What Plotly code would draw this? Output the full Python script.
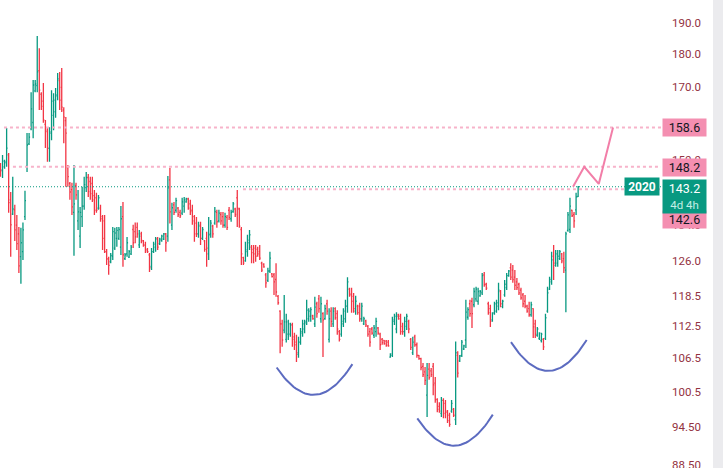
import math
import plotly.graph_objects as go

# ---------------- data ----------------
opens = [148.4,147.4,148.2,149.2,151.3,140.0,136.6,137.6,134.0,132.0,126.9,128.0,136.0,148.4,154.2,158.3,160.0,169.0,170.5,175.0,
         168.0,166.0,159.5,157.5,153.0,157.0,162.0,163.0,167.5,172.0,170.0,163.5,160.5,148.0,144.0,142.5,137.0,143.5,135.0,131.5,
         136.0,138.5,143.0,145.5,144.5,144.0,141.0,140.5,138.0,138.0,136.0,135.0,128.0,126.5,125.8,127.0,128.8,131.0,131.0,129.0,
         136.0,126.5,127.5,126.8,127.5,133.0,132.5,133.5,129.5,132.0,130.4,129.5,128.5,127.3,124.8,128.0,129.0,131.0,129.8,130.5,
         130.8,132.0,131.5,144.9,134.0,138.8,137.5,138.0,137.0,136.8,138.5,139.5,140.2,139.0,137.5,136.0,134.5,132.0,134.0,131.0,
         130.4,131.0,127.5,132.0,133.8,134.5,137.0,135.0,136.5,136.0,134.0,135.8,137.5,135.5,137.2,137.8,140.5,137.8,133.0,126.7,
         126.0,128.0,130.0,129.0,128.5,128.8,128.5,128.0,125.5,125.3,123.0,121.8,123.8,123.2,123.0,122.0,118.5,115.5,113.0,111.8,
         110.0,111.0,111.0,112.8,110.5,109.5,107.2,109.5,111.2,112.0,113.5,114.0,114.5,114.6,113.0,117.0,118.0,114.0,115.0,114.0,
         117.0,110.0,115.5,113.0,116.0,115.0,111.5,111.0,113.0,114.0,116.5,120.0,119.0,118.5,115.5,116.5,116.5,114.0,113.0,113.6,
         112.5,111.5,112.0,110.8,111.5,112.2,111.0,110.0,109.8,109.7,109.5,106.7,107.0,113.5,112.0,114.8,114.5,112.5,111.5,112.5,
         113.5,110.0,107.5,110.5,109.0,107.0,106.4,105.0,104.0,99.9,104.5,104.2,105.0,102.0,99.2,98.0,96.8,99.0,98.5,97.2,
         96.5,97.2,97.5,95.8,107.0,106.0,107.0,108.2,109.9,114.3,117.0,117.5,116.8,118.0,117.5,118.6,119.2,123.0,121.0,117.0,
         116.0,113.8,115.2,115.5,116.5,119.5,116.4,118.8,120.3,122.8,124.5,124.0,122.5,121.5,121.0,119.8,118.8,117.5,116.5,116.0,
         114.8,116.0,113.0,110.8,110.2,109.8,110.0,110.2,115.5,120.0,121.5,127.0,125.0,125.5,126.5,127.5,126.5,124.0,132.8,133.0,
         137.5,136.5,137.6,140.8]
highs = [149.2,151.3,150.0,158.5,151.8,141.9,145.7,138.8,136.4,133.6,133.4,134.6,142.2,157.1,157.1,168.6,172.2,172.2,185.8,181.9,
         168.6,171.3,160.7,158.7,158.7,169.2,168.3,169.8,174.3,174.6,175.8,164.3,161.5,148.7,144.4,144.2,148.7,144.2,142.4,138.3,
         143.2,145.7,146.9,146.4,145.7,145.7,142.4,141.7,141.2,138.8,136.4,136.4,128.6,126.9,127.7,133.6,133.4,133.6,133.6,138.5,
         139.5,127.7,131.3,128.4,129.5,134.1,134.6,134.6,132.9,132.5,130.6,130.2,128.8,127.7,128.8,130.2,131.3,131.3,131.1,131.8,
         132.2,132.2,145.9,147.9,139.3,139.5,140.5,138.3,137.6,140.5,140.7,140.5,140.5,140.0,138.8,136.4,135.9,134.8,134.8,133.6,
         130.6,132.5,135.9,135.2,134.1,138.3,137.6,137.6,137.1,137.1,136.9,136.4,138.3,137.6,139.5,138.1,142.4,138.1,133.6,126.9,
         130.2,131.8,132.9,129.5,129.5,129.5,129.1,129.5,125.8,125.5,123.4,124.5,128.0,123.4,123.4,125.5,118.8,115.7,113.8,118.8,
         115.0,113.8,113.2,113.2,111.3,110.9,110.5,112.2,113.8,113.8,117.8,116.1,116.3,114.8,118.4,117.4,118.8,118.4,115.3,116.8,
         117.8,116.1,116.3,116.3,116.3,115.7,111.8,114.8,116.1,117.8,122.5,120.3,120.3,119.2,118.6,116.8,117.2,117.2,114.4,113.8,
         112.8,112.2,112.4,112.8,114.2,112.4,111.3,110.3,109.9,109.9,109.9,107.4,114.4,115.0,115.3,115.0,115.0,113.2,114.4,115.0,
         113.8,110.3,110.5,110.9,109.4,107.1,106.6,105.6,104.9,105.6,105.6,104.7,105.6,103.1,99.4,98.7,99.6,99.4,99.1,97.4,
         96.9,99.1,97.7,109.6,107.8,107.1,109.9,109.0,117.8,116.3,117.8,118.2,120.3,120.5,120.3,119.8,123.4,123.6,121.3,117.4,
         116.8,115.3,117.4,117.8,121.3,119.8,117.8,121.9,123.4,124.0,125.5,125.1,124.0,122.3,121.3,120.3,119.2,118.8,116.8,117.4,
         117.4,116.1,113.8,112.4,111.4,111.3,110.3,115.0,120.5,122.6,128.0,129.5,128.4,128.4,128.4,127.7,128.0,132.5,137.1,140.5,
         137.6,137.1,141.7,143.4]
lows = [145.7,145.4,147.7,148.2,136.9,126.9,136.4,130.4,128.4,123.4,121.1,126.2,135.2,146.9,153.9,157.9,155.7,168.6,168.6,163.5,
        163.5,159.9,153.1,149.5,149.5,155.2,157.9,161.3,166.3,163.5,162.9,154.4,143.2,143.2,140.0,136.4,127.1,140.0,132.9,128.8,
        133.6,137.6,141.9,140.7,140.0,139.5,136.4,136.9,137.6,134.8,128.4,127.7,125.1,123.0,125.5,126.2,128.4,129.1,130.6,127.3,
        124.7,126.2,126.9,126.6,127.3,128.8,129.9,131.1,128.8,129.9,129.1,127.7,127.7,123.6,124.0,127.7,128.0,128.4,129.5,130.2,
        130.6,128.0,130.2,134.4,132.9,136.4,136.9,135.9,135.7,136.4,136.9,139.3,137.6,136.4,134.1,130.2,131.3,131.1,129.5,130.6,
        128.0,124.7,126.2,131.1,131.1,134.1,133.4,134.6,134.1,133.4,133.4,132.9,135.2,134.8,136.9,135.9,133.6,133.4,125.1,125.1,
        125.8,126.9,128.4,125.5,125.5,125.8,126.9,126.2,123.6,124.5,120.3,121.5,123.4,122.4,118.8,118.4,116.8,107.4,108.6,111.2,
        109.4,109.9,110.5,108.6,108.0,105.8,106.6,109.0,110.5,111.2,112.8,113.4,113.4,113.8,112.4,114.2,115.2,113.2,106.7,113.8,
        114.8,109.4,112.4,112.4,113.8,110.9,109.6,110.5,112.4,113.2,115.2,118.4,115.2,115.2,114.8,114.8,113.4,113.4,112.8,112.4,
        110.5,108.6,110.9,110.3,110.5,110.9,108.0,109.0,109.0,108.6,108.6,106.6,106.7,112.8,111.2,113.8,110.9,110.9,110.5,111.8,
        111.2,108.0,107.1,108.6,106.6,106.2,104.3,103.1,101.7,96.2,102.6,103.1,99.9,98.6,97.0,96.9,96.2,96.0,96.0,95.2,
        94.6,96.9,96.2,94.9,103.0,105.8,106.7,108.0,108.4,113.8,114.4,112.2,116.3,117.4,116.8,118.4,118.8,120.5,119.8,114.8,
        112.4,113.4,114.8,115.2,115.7,116.3,116.1,118.4,119.8,122.6,121.9,121.3,119.8,119.8,118.8,117.8,116.3,116.1,115.2,114.4,
        114.4,110.3,110.3,110.5,109.9,109.4,108.0,109.9,115.2,119.8,120.9,121.9,124.7,124.7,126.2,125.5,123.4,115.3,132.5,132.2,
        135.9,133.4,136.4,140.7]
closes = [147.2,149.7,149.5,153.1,139.3,134.1,137.8,132.9,129.8,124.9,130.0,132.9,139.8,153.9,156.0,163.8,170.7,171.0,174.6,169.2,
          164.5,160.7,157.9,153.1,157.4,166.0,166.3,167.8,172.5,166.3,164.3,161.5,157.1,145.7,141.9,138.3,139.0,141.2,137.1,137.0,
          138.5,143.7,145.5,142.0,141.5,140.0,137.5,137.5,140.5,135.5,131.0,128.0,126.4,125.0,127.2,132.5,132.2,132.8,133.0,135.5,
          127.3,127.3,130.0,128.0,129.0,130.0,131.3,132.0,131.5,130.5,129.4,128.2,128.0,124.5,128.0,129.7,130.8,129.0,130.8,131.5,
          132.0,130.0,142.9,137.1,138.1,137.0,139.8,136.5,136.2,139.5,140.0,140.3,138.0,137.2,135.0,132.0,132.0,133.8,131.0,133.0,
          128.5,128.8,131.8,134.5,132.0,137.2,134.8,136.8,135.0,134.0,136.0,133.5,135.8,137.0,139.0,136.5,138.0,133.8,127.5,125.5,
          128.4,130.6,131.8,127.8,127.5,127.0,127.5,126.6,124.0,124.7,121.3,123.8,126.6,122.6,121.5,119.4,117.2,113.0,109.9,113.4,
          113.4,113.0,112.8,110.0,109.0,107.5,109.5,111.5,113.0,113.2,115.7,115.5,115.8,114.0,116.3,115.0,116.0,117.0,113.8,116.0,
          115.5,114.0,113.5,115.5,114.2,112.0,110.0,113.5,115.5,116.5,121.5,118.8,117.5,116.0,117.5,115.2,114.0,116.5,114.0,112.8,
          111.0,109.5,111.2,112.2,113.5,111.2,109.0,109.4,109.2,108.9,108.8,107.3,113.8,114.5,114.5,114.0,111.5,111.5,113.5,114.5,
          112.0,108.5,109.5,109.0,107.0,106.4,104.8,103.5,102.5,103.4,103.0,103.5,101.7,99.1,97.5,97.2,99.0,96.8,97.0,95.6,
          95.0,98.5,96.5,107.5,103.8,106.9,109.5,108.8,115.3,115.8,115.0,115.0,119.5,120.0,119.5,119.5,122.8,120.9,120.2,115.2,
          113.5,115.0,117.0,117.2,119.8,117.0,117.5,121.0,122.8,123.8,122.5,122.0,120.8,120.3,119.2,118.2,117.0,116.5,115.5,114.8,
          116.8,112.4,111.0,112.0,111.2,111.0,108.6,114.2,119.2,122.0,126.2,125.5,127.5,127.0,128.0,126.0,124.5,132.0,136.4,138.5,
          136.2,135.0,140.7,143.2]

bar_index = list(range(len(opens)))

level_prices = [158.6, 148.2, 142.6]
level_start = [1.7, 6.1, 118.8]
last_price = 143.2
countdown = "4d 4h"
year_label = "2020"

proj_x = [280.5, 286.0, 293.1, 300.1]
proj_y = [143.2, 148.2, 143.9, 158.6]

arc_x = [[135.3, 154.9, 172.4], [204.2, 223.8, 241.2], [250.1, 269.2, 287.2]]
arc_y = [[104.8, 100.0, 105.4], [96.0, 91.6, 96.6], [109.5, 104.2, 109.9]]

tick_vals = [88.5, 94.5, 100.5, 106.5, 112.5, 118.5, 126.0, 134.0, 150.0, 170.0, 180.0, 190.0]
tick_text = ["88.50", "94.50", "100.5", "106.5", "112.5", "118.5", "126.0", "134.0",
             "150.0", "170.0", "180.0", "190.0"]

# ---------------- figure ----------------
GREEN = "#089981"
RED = "#f23645"
PINK = "#f48fb1"
X_RANGE = [-0.245, 323.6]
X_END = 330

fig = go.Figure()

# horizontal levels
for p, s in zip(level_prices, level_start):
    fig.add_trace(go.Scatter(x=[s, X_END], y=[p, p], mode="lines",
                             line=dict(color="#f7b3ca", width=2, dash="3px,3px"),
                             hoverinfo="skip", showlegend=False))
fig.add_trace(go.Scatter(x=[X_RANGE[0], X_END], y=[last_price, last_price], mode="lines",
                         line=dict(color=GREEN, width=1, dash="1px,2px"),
                         hoverinfo="skip", showlegend=False))

fig.add_trace(go.Ohlc(x=bar_index, open=opens, high=highs, low=lows, close=closes,
                      increasing=dict(line=dict(color=GREEN, width=1.3)),
                      decreasing=dict(line=dict(color=RED, width=1.3)),
                      tickwidth=0.5, showlegend=False, hoverinfo="skip"))

# rounded-bottom drawings (parabola through the three read points)
for ax_, ay_ in zip(arc_x, arc_y):
    ly = [math.log10(v) for v in ay_]
    xs, ys = [], []
    n = 40
    for k in range(n + 1):
        t = ax_[0] + (ax_[2] - ax_[0]) * k / n
        v = (ly[0] * (t - ax_[1]) * (t - ax_[2]) / ((ax_[0] - ax_[1]) * (ax_[0] - ax_[2]))
             + ly[1] * (t - ax_[0]) * (t - ax_[2]) / ((ax_[1] - ax_[0]) * (ax_[1] - ax_[2]))
             + ly[2] * (t - ax_[0]) * (t - ax_[1]) / ((ax_[2] - ax_[0]) * (ax_[2] - ax_[1])))
        xs.append(t)
        ys.append(10 ** v)
    fig.add_trace(go.Scatter(x=xs, y=ys, mode="lines", line=dict(color="#5c6bc0", width=2),
                             hoverinfo="skip", showlegend=False))

# projection zigzag
fig.add_trace(go.Scatter(x=proj_x, y=proj_y, mode="lines", line=dict(color="#f27ea8", width=2),
                         hoverinfo="skip", showlegend=False))

LBL_FONT = "Roboto, Arial, sans-serif"
annotations = []
for p, ysh in zip(level_prices, [0, -1, -30]):
    annotations.append(dict(x=1, xref="paper", xanchor="left", xshift=1,
                            y=math.log10(p), yref="y", yanchor="middle", yshift=ysh,
                            text=f"{p:.1f}", showarrow=False, bgcolor=PINK,
                            font=dict(family=LBL_FONT, size=12.5, color="#131722"),
                            width=41, height=15, borderpad=1))
annotations.append(dict(x=1, xref="paper", xanchor="left", xshift=1,
                        y=math.log10(last_price), yref="y", yanchor="top", yshift=8,
                        text=f"{last_price:.1f}<br><span style='font-size:11.5px;color:#c4eee4'>{countdown}</span>",
                        showarrow=False, bgcolor=GREEN,
                        font=dict(family=LBL_FONT, size=12.5, color="#ffffff"),
                        width=41, height=31, borderpad=1))
annotations.append(dict(x=1, xref="paper", xanchor="right", xshift=-1,
                        y=math.log10(last_price), yref="y", yanchor="middle",
                        text=f"<b>{year_label}</b>", showarrow=False, bgcolor=GREEN,
                        font=dict(family=LBL_FONT, size=12, color="#ffffff"),
                        width=32, height=15, borderpad=1))

fig.update_layout(
    width=723, height=468,
    margin=dict(l=0, r=62, t=0, b=0, pad=0, autoexpand=False),
    paper_bgcolor="rgba(0,0,0,0)", plot_bgcolor="#ffffff",
    showlegend=False,
    xaxis=dict(visible=False, range=X_RANGE, rangeslider=dict(visible=False), showgrid=False,
               automargin=False),
    yaxis=dict(type="log", side="right", range=[math.log10(88.1), math.log10(197.7)],
               tickvals=tick_vals, ticktext=tick_text, showgrid=False, zeroline=False,
               showline=False, ticks="", ticklabelstandoff=10, automargin=False,
               ticklabeloverflow="allow",
               tickfont=dict(family=LBL_FONT, size=11.5, color="#93323f")),
    annotations=annotations,
)

page_js = ("document.body.style.margin='0';document.body.style.overflow='hidden';"
           "document.body.style.background='linear-gradient(to right, #ffffff 713px, #ebebee 713px)';")
fig.write_html("out.html", config={"displayModeBar": False}, post_script=page_js)
